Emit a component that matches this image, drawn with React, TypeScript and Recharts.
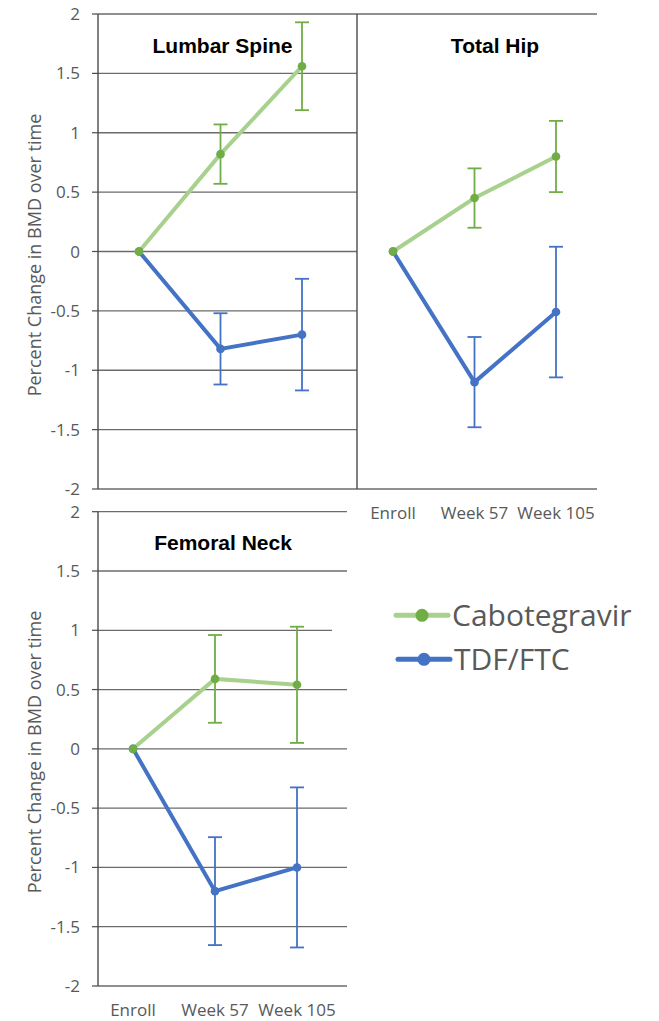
import React from 'react';
import { LineChart, Line, XAxis, YAxis, CartesianGrid, ErrorBar } from 'recharts';

// Visit labels along the x axis
const stages = ['Enroll', 'Week 57', 'Week 105'];
// Percent-change ticks on the y axis
const yTicks = [-2, -1.5, -1, -0.5, 0, 0.5, 1, 1.5, 2];

// Series names shown in the legend
const seriesNames = ['Cabotegravir', 'TDF/FTC'];

// Lumbar spine: mean percent change and error half-widths
const lumbarCab = [0, 0.82, 1.56];
const lumbarCabErr = [0, 0.25, 0.37];
const lumbarTdf = [0, -0.82, -0.7];
const lumbarTdfErr = [0, 0.3, 0.47];

// Total hip
const hipCab = [0, 0.45, 0.8];
const hipCabErr = [0, 0.25, 0.3];
const hipTdf = [0, -1.1, -0.51];
const hipTdfErr = [0, 0.38, 0.55];

// Femoral neck
const neckCab = [0, 0.59, 0.54];
const neckCabErr = [0, 0.37, 0.49];
const neckTdf = [0, -1.2, -1.0];
const neckTdfErr = [0, 0.455, 0.675];

const CAB_LINE = '#A9D18E';
const CAB_MARK = '#70AD47';
const TDF = '#4472C4';
const GRID = '#6b6b6b';
const AXIS = '#4a4a4a';
const TEXT = '#595959';
const FONT = '"Open Sans", sans-serif';
const TITLE_FONT = '"Liberation Sans", Arial, sans-serif';

function buildRows(cab: number[], cabErr: number[], tdf: number[], tdfErr: number[]) {
  return stages.map((stage, i) => ({
    stage,
    cab: cab[i],
    cabErr: cabErr[i],
    tdf: tdf[i],
    tdfErr: tdfErr[i],
  }));
}

type PanelProps = {
  data: any[];
  left: number;
  top: number;
  width: number;
  height: number;
  margin: { top: number; right: number; bottom: number; left: number };
  showYTicks: boolean;
  showXTicks: boolean;
  xPad: { left: number; right: number };
};

function Panel({ data, left, top, width, height, margin, showYTicks, showXTicks, xPad }: PanelProps) {
  return (
    <div style={{ position: 'absolute', left, top }}>
      <LineChart width={width} height={height} data={data} margin={margin}>
        <CartesianGrid horizontal vertical={false} stroke={GRID} strokeWidth={1.3} />
        <XAxis
          dataKey="stage"
          hide={!showXTicks}
          padding={xPad}
          axisLine={false}
          tickLine={false}
          tickSize={6}
          tickMargin={12}
          height={30}
          interval={0}
          tick={{ fill: TEXT, fontSize: 17, fontFamily: FONT }}
        />
        <YAxis
          type="number"
          domain={[-2, 2]}
          ticks={yTicks}
          interval={0}
          width={showYTicks ? 98 : 1}
          tick={showYTicks ? { fill: TEXT, fontSize: 17, fontFamily: FONT } : false}
          tickLine={showYTicks ? { stroke: AXIS, strokeWidth: 1.2 } : false}
          tickSize={6}
          tickMargin={12}
          axisLine={{ stroke: AXIS, strokeWidth: 1.4 }}
        />
        <Line
          dataKey="tdf"
          name={seriesNames[1]}
          stroke={TDF}
          strokeWidth={4}
          dot={{ r: 4.3, fill: TDF, stroke: TDF, strokeWidth: 0 }}
          activeDot={false}
          isAnimationActive={false}
        >
          <ErrorBar dataKey="tdfErr" direction="y" width={7} stroke={TDF} strokeWidth={1.8} />
        </Line>
        <Line
          dataKey="cab"
          name={seriesNames[0]}
          stroke={CAB_LINE}
          strokeWidth={4}
          dot={{ r: 4.3, fill: CAB_MARK, stroke: CAB_MARK, strokeWidth: 0 }}
          activeDot={false}
          isAnimationActive={false}
        >
          <ErrorBar dataKey="cabErr" direction="y" width={7} stroke={CAB_MARK} strokeWidth={1.8} />
        </Line>
      </LineChart>
    </div>
  );
}

const legendItems = [
  { name: seriesNames[0], line: CAB_LINE, mark: CAB_MARK },
  { name: seriesNames[1], line: TDF, mark: TDF },
];

export default function App() {
  const lumbar = buildRows(lumbarCab, lumbarCabErr, lumbarTdf, lumbarTdfErr);
  const hip = buildRows(hipCab, hipCabErr, hipTdf, hipTdfErr);
  const neck = buildRows(neckCab, neckCabErr, neckTdf, neckTdfErr);
  const yTitle = 'Percent Change in BMD over time';

  return (
    <div style={{ position: 'absolute', left: 0, top: 0, width: 659, height: 1021, background: '#fff', overflow: 'hidden' }}>
      <Panel
        data={lumbar}
        left={0}
        top={0}
        width={360}
        height={500}
        margin={{ top: 14, right: 3, bottom: 11, left: 0 }}
        showYTicks
        showXTicks={false}
        xPad={{ left: 41, right: 55 }}
      />
      <Panel
        data={hip}
        left={340}
        top={0}
        width={270}
        height={540}
        margin={{ top: 14, right: 13, bottom: 21, left: 16 }}
        showYTicks={false}
        showXTicks
        xPad={{ left: 36, right: 41 }}
      />
      <Panel
        data={neck}
        left={0}
        top={500}
        width={360}
        height={521}
        margin={{ top: 11.7, right: 13, bottom: 5, left: 0 }}
        showYTicks
        showXTicks
        xPad={{ left: 35, right: 50 }}
      />
      <svg
        width={659}
        height={1021}
        style={{ position: 'absolute', left: 0, top: 0, pointerEvents: 'none' }}
      >
        <g fontFamily={TITLE_FONT} fontWeight="bold" fontSize={21} fill="#000" textAnchor="middle">
          <text x={222.5} y={53}>Lumbar Spine</text>
          <text x={495} y={53}>Total Hip</text>
          <text x={223} y={550}>Femoral Neck</text>
        </g>
        <g fontFamily={FONT} fontSize={18} fill={TEXT} textAnchor="middle">
          <text x={41} y={255} transform="rotate(-90 41 255)">{yTitle}</text>
          <text x={41} y={752} transform="rotate(-90 41 752)">{yTitle}</text>
        </g>
        <rect x={332} y={582} width={320} height={100} fill="#fff" />
        {legendItems.map((item, i) => {
          const cy = 615.3 + i * 44;
          const x0 = 396 + i * 2;
          return (
            <g key={item.name}>
              <line x1={x0} x2={x0 + 52} y1={cy} y2={cy} stroke={item.line} strokeWidth={5} strokeLinecap="round" />
              <circle cx={x0 + 26} cy={cy} r={6.5} fill={item.mark} />
              <text x={x0 + 56} y={cy + 11} fontFamily={FONT} fontSize={30} fill={TEXT}>
                {item.name}
              </text>
            </g>
          );
        })}
      </svg>
    </div>
  );
}
